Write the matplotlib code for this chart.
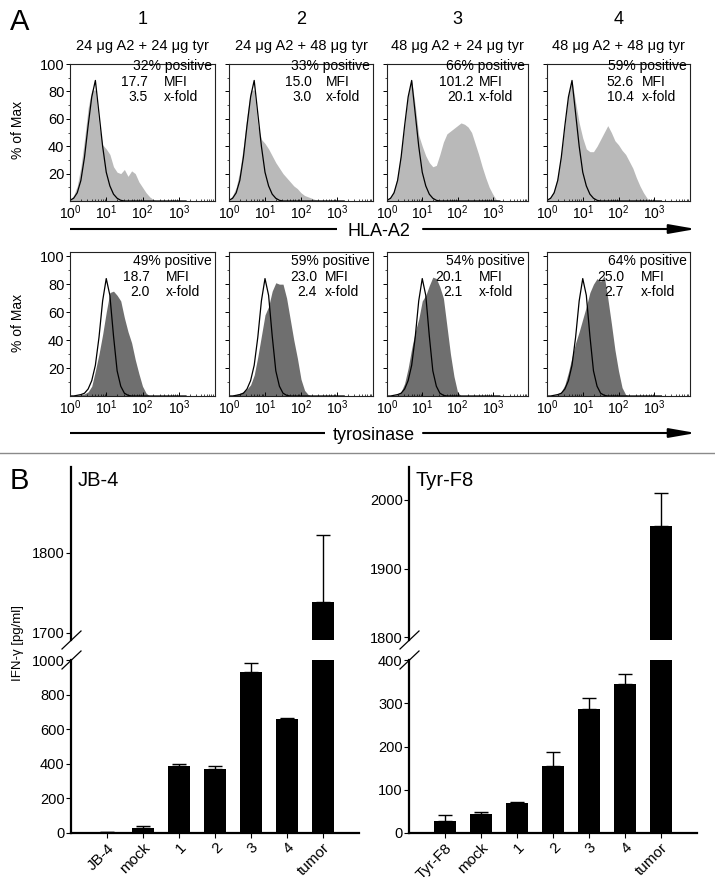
import matplotlib
matplotlib.use('Agg')
import matplotlib.pyplot as plt
import numpy as np
from matplotlib.ticker import FixedLocator

plt.rcParams['font.family'] = ['Liberation Sans', 'DejaVu Sans']
plt.rcParams['mathtext.default'] = 'regular'

W, H = 715, 889

# ---- panel A: flow histograms, % of max, read every 0.1 decade (log10 of intensity)
log_fl = [0.0, 0.1, 0.2, 0.3, 0.4, 0.5, 0.6, 0.7, 0.8, 0.9, 1.0, 1.1, 1.2, 1.3, 1.4, 1.5,
          1.6, 1.7, 1.8, 1.9, 2.0, 2.1, 2.2, 2.3, 2.4, 2.5, 2.6, 2.7, 2.8, 2.9, 3.0, 3.1, 3.2]

ctrl_a2 = [0.5, 2, 6, 15, 32, 55, 76, 88, 64, 40, 21, 11, 5, 2, 0.5, 0, 0,
           0, 0, 0, 0, 0, 0, 0, 0, 0, 0, 0, 0, 0, 0, 0, 0]
a2_1 = [1, 4, 11, 25, 45, 68, 81, 81, 55, 41, 38, 34, 25, 21, 20, 23, 18,
        22, 20, 14, 10, 6, 3, 1, 0, 0, 0, 0, 0, 0, 0, 0, 0]
a2_2 = [1, 4, 10, 22, 40, 62, 81, 81, 55, 45, 42, 38, 33, 28, 24, 20, 17,
        14, 11, 9, 6, 4, 3, 2, 1, 0.5, 0, 0, 0, 0, 0, 0, 0]
a2_3 = [1, 3, 8, 18, 36, 55, 78, 88, 70, 48, 40, 33, 28, 25, 26, 34, 43,
        49, 51, 53, 55, 57, 56, 54, 50, 42, 34, 25, 17, 10, 5, 1, 0]
a2_4 = [1, 3, 8, 18, 35, 55, 78, 88, 72, 57, 46, 38, 36, 36, 40, 45, 50,
        55, 50, 44, 41, 37, 34, 29, 24, 17, 11, 6, 2, 0.5, 0, 0, 0]

ctrl_tyr = [0, 0, 0.5, 1, 2, 5, 11, 22, 42, 68, 84, 72, 43, 18, 7, 2, 0.5,
            0, 0, 0, 0, 0, 0, 0, 0, 0, 0, 0, 0, 0, 0, 0, 0]
tyr_1 = [0.5, 0.5, 0.5, 1, 1.5, 3, 7, 18, 30, 44, 60, 74, 75, 72, 68, 56, 46,
         38, 26, 16, 7, 2, 0, 0, 0, 0, 0, 0, 0, 0, 0, 0, 0]
tyr_2 = [0.5, 0.5, 1, 2, 3, 5, 8, 15, 28, 43, 58, 64, 75, 81, 80, 80, 70,
         55, 40, 27, 12, 4, 1, 0, 0, 0, 0, 0, 0, 0, 0, 0, 0]
tyr_3 = [0, 0, 0.5, 1, 3, 9, 20, 34, 46, 55, 68, 72, 79, 85, 84, 78, 70,
         50, 30, 14, 3, 0, 0, 0, 0, 0, 0, 0, 0, 0, 0, 0, 0]
tyr_4 = [0, 0, 0.5, 1, 3, 8, 17, 28, 38, 46, 55, 64, 74, 80, 84, 82, 86,
         70, 52, 33, 18, 6, 1, 0, 0, 0, 0, 0, 0, 0, 0, 0, 0]

group_ids = ['1', '2', '3', '4']
doses = ['24 \u03bcg A2 + 24 \u03bcg tyr', '24 \u03bcg A2 + 48 \u03bcg tyr',
         '48 \u03bcg A2 + 24 \u03bcg tyr', '48 \u03bcg A2 + 48 \u03bcg tyr']
a2_pos = ['32%', '33%', '66%', '59%']
a2_mfi = ['17.7', '15.0', '101.2', '52.6']
a2_fold = ['3.5', '3.0', '20.1', '10.4']
tyr_pos = ['49%', '59%', '54%', '64%']
tyr_mfi = ['18.7', '23.0', '20.1', '25.0']
tyr_fold = ['2.0', '2.4', '2.1', '2.7']
decade_labels = ['$10^{0}$', '$10^{1}$', '$10^{2}$', '$10^{3}$', '']

# ---- panel B: IFN-gamma release
jb_labels = ['JB-4', 'mock', '1', '2', '3', '4', 'tumor']
jb_vals = [3, 30, 385, 368, 933, 660, 1738]
jb_err = [4, 12, 13, 22, 48, 5, 84]
tf_labels = ['Tyr-F8', 'mock', '1', '2', '3', '4', 'tumor']
tf_vals = [28, 44, 69, 154, 287, 344, 1962]
tf_err = [13, 4, 3, 34, 24, 23, 48]

fig = plt.figure(figsize=(W / 100, H / 100), dpi=100)


def px_axes(left, top, width, height):
    return fig.add_axes([left / W, 1 - (top + height) / H, width / W, height / H])


hist_lefts = [70, 229, 387, 547]
hist_widths = [145, 144, 141, 143]
x_fl = 10 ** np.array(log_fl)


def hist_panel(i, top, height, ymax, ctrl, sample, color):
    ax = px_axes(hist_lefts[i], top, hist_widths[i], height)
    ax.fill_between(x_fl, sample, color=color, lw=0)
    ax.plot(x_fl, ctrl, color='black', lw=0.9)
    ax.set_xscale('log')
    ax.set_xlim(1, 1e4)
    ax.set_ylim(0, ymax)
    ax.set_xticks([1, 10, 100, 1000, 10000], decade_labels)
    ax.xaxis.set_minor_locator(FixedLocator([m * 10 ** d for d in range(4) for m in range(2, 10)]))
    ax.set_yticks([20, 40, 60, 80, 100])
    ax.yaxis.set_minor_locator(FixedLocator([10, 30, 50, 70, 90]))
    if i > 0:
        ax.set_yticklabels([])
    ax.tick_params(axis='x', which='major', direction='in', length=3, width=0.7,
                   labelsize=10, pad=2)
    ax.tick_params(axis='x', which='minor', direction='in', length=1.5, width=0.5)
    ax.tick_params(axis='y', which='major', direction='out', length=3, width=0.7,
                   labelsize=10.5, pad=1)
    ax.tick_params(axis='y', which='minor', direction='out', length=1.5, width=0.5)
    for s in ax.spines.values():
        s.set_linewidth(0.8)
        s.set_color('#222222')
    return ax


for i, s in enumerate([a2_1, a2_2, a2_3, a2_4]):
    hist_panel(i, 64, 137, 100, ctrl_a2, s, '#b9b9b9')
for i, s in enumerate([tyr_1, tyr_2, tyr_3, tyr_4]):
    hist_panel(i, 252, 144, 103, ctrl_tyr, s, '#6f6f6f')


def bar_panel(left, title, labels, vals, errs, hi_lim, hi_ticks, lo_lim, lo_ticks):
    pos = np.arange(len(vals))
    ax_hi = px_axes(left, 467, 288, 173)
    ax_lo = px_axes(left, 660, 288, 173)
    for ax, lim, ticks in [(ax_hi, hi_lim, hi_ticks), (ax_lo, lo_lim, lo_ticks)]:
        ax.bar(pos, vals, width=0.61, color='black')
        ax.errorbar(pos, vals, yerr=[np.zeros(len(errs)), errs], fmt='none',
                    ecolor='black', elinewidth=1, capsize=5, capthick=1)
        ax.set_xlim(-1, len(vals))
        ax.set_ylim(*lim)
        ax.set_yticks(ticks)
        ax.tick_params(axis='y', direction='out', length=3.5, width=0.8, labelsize=10.5, pad=1)
        ax.spines['top'].set_visible(False)
        ax.spines['right'].set_visible(False)
        ax.spines['left'].set_linewidth(1.6)
        ax.spines['bottom'].set_linewidth(1.6)
    ax_hi.spines['bottom'].set_visible(False)
    ax_hi.set_xticks([])
    ax_lo.set_xticks(pos)
    ax_lo.set_xticklabels(labels, rotation=45, ha='right', rotation_mode='anchor')
    ax_lo.tick_params(axis='x', direction='out', length=3.5, width=0.8, labelsize=11, pad=2)
    fig.text((left + 7) / W, 1 - 480 / H, title, fontsize=14.5, va='center')


bar_panel(71, 'JB-4', jb_labels, jb_vals, jb_err, (1691, 1907), [1700, 1800],
          (0, 1000), [0, 200, 400, 600, 800, 1000])
bar_panel(409, 'Tyr-F8', tf_labels, tf_vals, tf_err, (1796, 2048), [1800, 1900, 2000],
          (0, 400), [0, 100, 200, 300, 400])

# ---- overlay in pixel coordinates for labels, arrows and decorations
ov = fig.add_axes([0, 0, 1, 1])
ov.set_xlim(0, W)
ov.set_ylim(H, 0)
ov.axis('off')

ov.text(10, 22, 'A', fontsize=21, va='center', ha='left')
ov.text(10, 481, 'B', fontsize=21, va='center', ha='left')

num_right = [[78, 83, 87, 87], [80, 88, 75, 77]]
lab_left = [[94, 97, 92, 95], [96, 96, 92, 94]]
rows = [(64, [66, 82, 97], a2_pos, a2_mfi, a2_fold),
        (252, [261, 277, 292], tyr_pos, tyr_mfi, tyr_fold)]
for r, (top, ys, pos_s, mfi_s, fold_s) in enumerate(rows):
    for i in range(4):
        x0 = hist_lefts[i]
        ov.text(x0 + hist_widths[i] - 3, ys[0], pos_s[i] + ' positive', fontsize=10,
                ha='right', va='center')
        ov.text(x0 + num_right[r][i], ys[1], mfi_s[i], fontsize=10, ha='right', va='center')
        ov.text(x0 + lab_left[r][i], ys[1], 'MFI', fontsize=10, ha='left', va='center')
        ov.text(x0 + num_right[r][i], ys[2], fold_s[i], fontsize=10, ha='right', va='center')
        ov.text(x0 + lab_left[r][i], ys[2], 'x-fold', fontsize=10, ha='left', va='center')

for i in range(4):
    cx = hist_lefts[i] + hist_widths[i] / 2
    ov.text(cx, 20, group_ids[i], fontsize=13, ha='center', va='center')
    ov.text(cx, 46, doses[i], fontsize=10.5, ha='center', va='center')

ov.text(18, 130, '% of Max', fontsize=10, rotation=90, ha='center', va='center')
ov.text(18, 323, '% of Max', fontsize=10, rotation=90, ha='center', va='center')

for y, name, l_end, tx in [(229, 'HLA-A2', 337, 379), (433, 'tyrosinase', 325, 374)]:
    ov.plot([70, l_end], [y, y], color='black', lw=1.5, solid_capstyle='butt')
    ov.text(tx, y + 2, name, fontsize=13, ha='center', va='center')
    ov.annotate('', xy=(696, y), xytext=(423, y),
                arrowprops=dict(arrowstyle='-|>,head_length=1.6,head_width=0.28',
                                lw=1.5, color='black', shrinkA=0, shrinkB=0,
                                mutation_scale=10))

ov.plot([0, W], [453, 453], color='#8a8a8a', lw=1)

# break marks on the y axes of panel B
for ax_x in [71, 409]:
    for y in [640, 660]:
        ov.plot([ax_x - 9, ax_x + 10], [y + 9, y - 9], color='black', lw=0.9)

ov.text(18, 643, 'IFN-\u03b3 [pg/ml]', fontsize=9.5, rotation=90, ha='center', va='center')

fig.savefig('out.png', dpi=100)
